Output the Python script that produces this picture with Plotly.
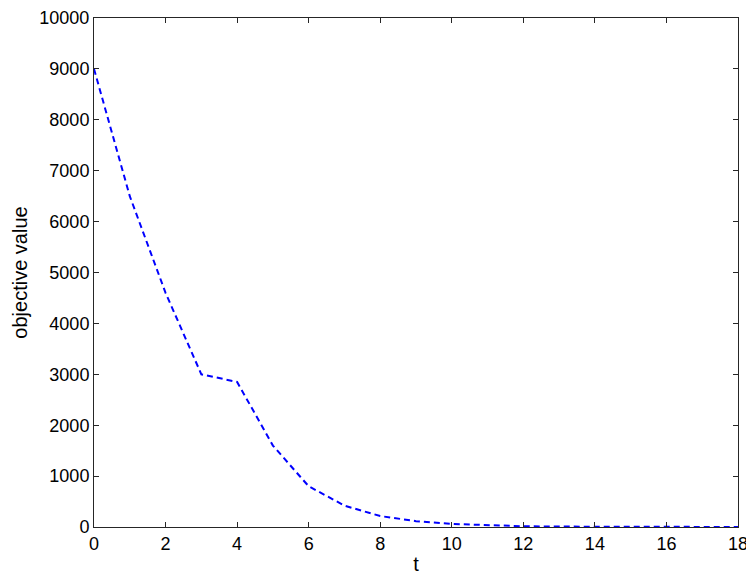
import plotly.graph_objects as go

t = list(range(19))
objective = [9000, 6500, 4600, 3000, 2850, 1600, 800, 420, 215, 115, 60, 30, 15, 8, 4, 2, 1, 0.5, 0.3]

x_ticks = list(range(0, 19, 2))
y_ticks = list(range(0, 10001, 1000))
y_tick_labels = [str(v) for v in y_ticks]

FONT = "Arial, Liberation Sans, sans-serif"

fig = go.Figure()
fig.add_trace(go.Scatter(
    x=t, y=objective, mode="lines",
    line=dict(color="#0000ff", width=2, dash="6px,4px"),
    showlegend=False,
))

axis_common = dict(
    showline=True, linecolor="#262626", linewidth=1, mirror="ticks",
    ticks="inside", ticklen=5, tickcolor="#262626",
    showgrid=False, zeroline=False, automargin=False,
    tickfont=dict(family=FONT, size=18, color="black"),
)

fig.update_xaxes(range=[0, 18], tickvals=x_ticks,
                 title=dict(text="t", font=dict(family=FONT, size=20, color="black"), standoff=4),
                 **axis_common)
fig.update_yaxes(range=[0, 10000], tickvals=y_ticks, ticktext=y_tick_labels,
                 title=dict(text="objective value", font=dict(family=FONT, size=20, color="black"), standoff=6),
                 **axis_common)

# the page body adds an 8px offset, so the figure is sized to fit the window
fig.update_layout(
    width=746, height=571,
    margin=dict(l=86, r=16, t=10, b=52),
    plot_bgcolor="white", paper_bgcolor="white",
)

fig.write_html("out.html")
